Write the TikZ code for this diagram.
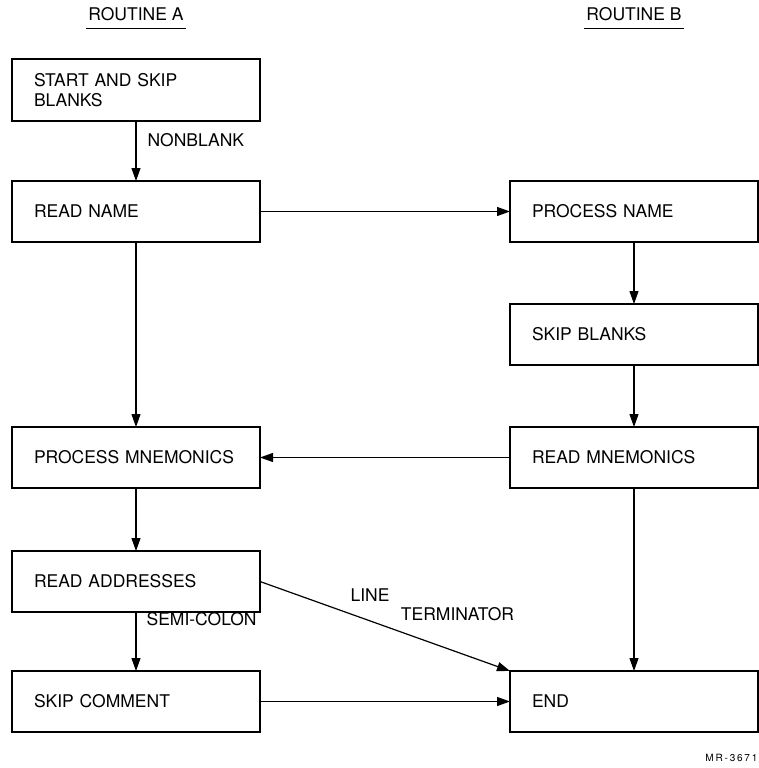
\documentclass[tikz,border=0pt]{standalone}
\usepackage{fontspec}
\setmainfont{TeX Gyre Heros}
\newfontfamily\tagfont[LetterSpace=18]{TeX Gyre Heros}
\usetikzlibrary{positioning, arrows.meta}

\begin{document}
\begin{tikzpicture}[
  x=1pt, y=1pt,
  font=\fontsize{17.5}{20}\selectfont,
  >={Triangle[length=13pt,width=9pt]},
  line width=1.2pt,
  box/.style={draw, line width=2pt, outer sep=0pt, minimum height=61pt, text width=204pt, inner xsep=22pt, inner ysep=0pt, align=left},
  lbl/.style={inner sep=0pt},
  hdr/.style={inner xsep=2pt, inner ysep=7pt}
]
  \useasboundingbox (0,0) rectangle (758,-768);

  \node[box] (start) at (136,-90) {START AND SKIP\\BLANKS};
  \node[box, below=60.5pt of start] (readname) {READ NAME};
  \node[box, below=185pt of readname] (procmnem) {PROCESS MNEMONICS};
  \node[box, below=63pt of procmnem] (readaddr) {READ ADDRESSES};
  \node[box, below=59pt of readaddr] (skipcomment) {SKIP COMMENT};

  \node[box, right=250pt of readname] (procname) {PROCESS NAME};
  \node[box, below=62pt of procname] (skipblanks) {SKIP BLANKS};
  \node[box, below=62pt of skipblanks] (readmnem) {READ MNEMONICS};
  \node[box, below=183pt of readmnem] (endbox) {END};

  \node[hdr, above=31pt of start] (routa) {ROUTINE A};
  \node[hdr] (routb) at (routa -| procname) {ROUTINE B};
  \draw (routa.south west) -- (routa.south east);
  \draw (routb.south west) -- (routb.south east);

  \node[lbl, font=\tagfont\fontsize{10}{12}\selectfont, below=22pt of endbox.south east, anchor=north east] (mrtag) {MR-3671};

  \draw[->] (start) -- (readname) node[lbl, pos=0.32, right=11pt] {NONBLANK};
  \draw[->] (readname) -- (procname);
  \draw[->] (readname) -- (procmnem);
  \draw[->] (procname) -- (skipblanks);
  \draw[->] (skipblanks) -- (readmnem);
  \draw[->] (readmnem) -- (procmnem);
  \draw[->] (readmnem) -- (endbox);
  \draw[->] (procmnem) -- (readaddr);
  \draw[->] (readaddr) -- (skipcomment) node[lbl, pos=0.12, right=10pt] {SEMI-COLON};
  \draw[->] (readaddr.east) -- (endbox.north west)
    node[lbl, pos=0.44, above=19pt] {LINE}
    node[lbl, pos=0.79, above=31pt] {TERMINATOR};
  \draw[->] (skipcomment) -- (endbox);
\end{tikzpicture}
\end{document}
